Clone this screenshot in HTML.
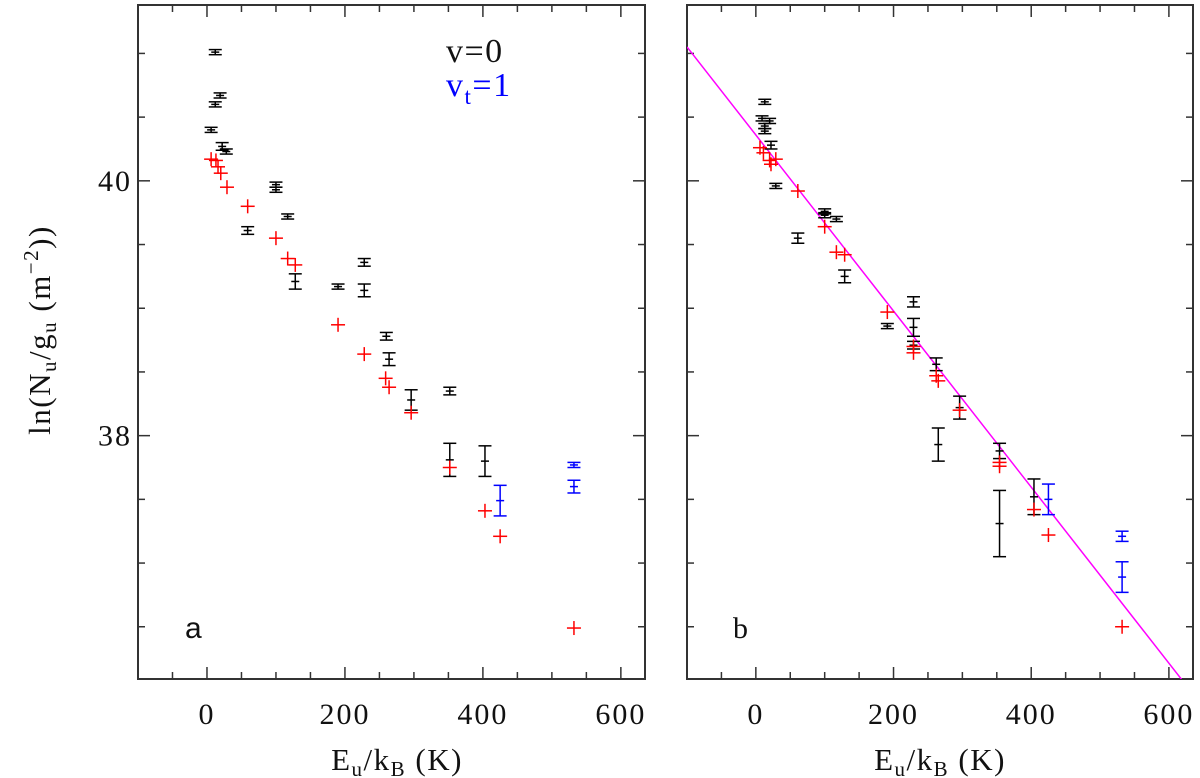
<!DOCTYPE html>
<html><head><meta charset="utf-8"><style>
html,body{margin:0;padding:0;background:#fff;}
body{position:relative;}
svg{display:block;font-family:"Liberation Serif",serif;}
</style></head><body>
<svg id="chart" width="1200" height="778" viewBox="0 0 1200 778"></svg>
<script>
// Panel a data
const aBlackE=[12,19,12,6,22,28,100,100,117,59,128,228,190,228,260,264,296,352,352,403];
const aBlackY=[41.01,40.67,40.60,40.40,40.27,40.23,39.97,39.93,39.72,39.61,39.21,39.36,39.17,39.14,38.78,38.60,38.28,38.35,37.81,37.80];
const aBlackErr=[0.02,0.02,0.02,0.02,0.03,0.02,0.02,0.02,0.02,0.03,0.06,0.03,0.02,0.05,0.03,0.05,0.08,0.03,0.13,0.12];
const aRedE=[6,13,16,20,29,59,100,117,128,190,228,259,264,296,352,403,425,532];
const aRedY=[40.17,40.16,40.11,40.06,39.95,39.80,39.55,39.39,39.34,38.87,38.64,38.45,38.38,38.18,37.75,37.41,37.21,36.49];
const aBlueE=[532,532,425];
const aBlueY=[37.77,37.60,37.49];
const aBlueErr=[0.02,0.05,0.12];
// Panel b data
const bBlackE=[13,9,20,13,13,22,29,100,100,117,61,129,229,191,229,229,262,296,265,354,354,404];
const bBlackY=[40.62,40.49,40.47,40.43,40.39,40.28,39.96,39.76,39.73,39.70,39.55,39.25,39.05,38.86,38.85,38.71,38.56,38.22,37.93,37.88,37.31,37.52];
const bBlackErr=[0.02,0.02,0.02,0.02,0.02,0.03,0.02,0.02,0.02,0.02,0.04,0.05,0.04,0.02,0.07,0.03,0.05,0.09,0.13,0.06,0.26,0.14];
const bRedE=[6,11,20,29,22,61,100,117,129,191,229,229,262,265,296,354,354,404,425,532];
const bRedY=[40.26,40.22,40.16,40.17,40.13,39.92,39.64,39.44,39.42,38.97,38.70,38.65,38.47,38.43,38.20,37.79,37.76,37.42,37.22,36.50];
const bBlueE=[425,532,532];
const bBlueY=[37.50,37.21,36.89];
const bBlueErr=[0.12,0.04,0.12];
const fitIntercept=40.36, fitSlope=-0.00691;
const xTicks=[0,200,400,600];
const yTicks=[38,40];

const NS="http://www.w3.org/2000/svg";
const svg=document.getElementById('chart');
function mk(tag,attrs,parent){const e=document.createElementNS(NS,tag);for(const k in attrs)e.setAttribute(k,attrs[k]);(parent||svg).appendChild(e);return e;}
const Y0=5,Y1=679,YMIN=36.09,YMAX=41.38;
function sy(v){return Y1-(v-YMIN)/(YMAX-YMIN)*(Y1-Y0);}
function makePanel(left,right,name){
  const xmin=-100,xmax=635;
  const sx=v=>left+(v-xmin)/(xmax-xmin)*(right-left);
  const g=mk('g',{});
  
  
  const fr=mk('rect',{x:left,y:Y0,width:right-left,height:Y1-Y0,fill:'none',stroke:'#333','stroke-width':2},g);
  
  
  for(let v=-50;v<=600;v+=50){const maj=v%200===0;const L=maj?12:7;
    mk('line',{x1:sx(v),x2:sx(v),y1:Y1,y2:Y1-L,stroke:'#333','stroke-width':1.5},g);
    mk('line',{x1:sx(v),x2:sx(v),y1:Y0,y2:Y0+L,stroke:'#333','stroke-width':1.5},g);}
  for(let v=36.5;v<=41.01;v+=0.5){const maj=Math.abs(v%2)<1e-6;const L=maj?12:7;
    mk('line',{x1:left,x2:left+L,y1:sy(v),y2:sy(v),stroke:'#333','stroke-width':1.5},g);
    mk('line',{x1:right,x2:right-L,y1:sy(v),y2:sy(v),stroke:'#333','stroke-width':1.5},g);}
  xTicks.forEach(v=>{const t=mk('text',{x:sx(v),y:724,'font-size':30,'text-anchor':'middle',fill:'#111','letter-spacing':2},g);t.textContent=v;
    
    });
  return {g,sx};
}
function errbar(g,x,y,e,color){
  const yt=sy(y+e),yb=sy(y-e),w=6.5;
  mk('line',{x1:x,x2:x,y1:yt,y2:yb,stroke:color,'stroke-width':1.5},g);
  mk('line',{x1:x-w,x2:x+w,y1:yt,y2:yt,stroke:color,'stroke-width':1.5},g);
  mk('line',{x1:x-w,x2:x+w,y1:yb,y2:yb,stroke:color,'stroke-width':1.5},g);
  mk('line',{x1:x-4,x2:x+4,y1:sy(y),y2:sy(y),stroke:color,'stroke-width':1.5},g);
}
function plus(g,x,y,color){
  mk('line',{x1:x-7,x2:x+7,y1:y,y2:y,stroke:color,'stroke-width':1.5},g);
  mk('line',{x1:x,x2:x,y1:y-7,y2:y+7,stroke:color,'stroke-width':1.5},g);
}
function drawSeries(p,bE,bY,bErr,rE,rY,uE,uY,uErr){
  const gb=mk('g',{},p.g);
  
  
  bE.forEach((e,i)=>errbar(gb,p.sx(e),bY[i],bErr[i],'#000'));
  const gr=mk('g',{},p.g);
  
  
  rE.forEach((e,i)=>plus(gr,p.sx(e),sy(rY[i]),'#f00'));
  const gu=mk('g',{},p.g);
  
  
  uE.forEach((e,i)=>errbar(gu,p.sx(e),uY[i],uErr[i],'#00f'));
}
const pa=makePanel(138,645,'panel-a');
drawSeries(pa,aBlackE,aBlackY,aBlackErr,aRedE,aRedY,aBlueE,aBlueY,aBlueErr);
const pb=makePanel(687,1193,'panel-b');
const cp=mk('clipPath',{id:'clipb'});mk('rect',{x:687,y:5,width:506,height:674},cp);
const fit=mk('line',{x1:pb.sx(-100),y1:sy(fitIntercept+fitSlope*-100),x2:pb.sx(635),y2:sy(fitIntercept+fitSlope*635),stroke:'#f0f','stroke-width':1.5,'clip-path':'url(#clipb)'},pb.g);


drawSeries(pb,bBlackE,bBlackY,bBlackErr,bRedE,bRedY,bBlueE,bBlueY,bBlueErr);
yTicks.forEach(v=>{const t=mk('text',{x:132,y:sy(v)+10,'font-size':30,'text-anchor':'end',fill:'#111','letter-spacing':2});t.textContent=v;
  
  });
</script>
<svg width="1200" height="778" style="position:absolute;left:0;top:0">
<text x="397" y="770" font-size="31" letter-spacing="1.5" text-anchor="middle" font-family="Liberation Serif,serif" fill="#111">E<tspan font-size="21" dy="6">u</tspan><tspan dy="-6">/k</tspan><tspan font-size="21" dy="6">B</tspan><tspan dy="-6"> (K)</tspan></text>
<text x="940" y="770" font-size="31" letter-spacing="1.5" text-anchor="middle" font-family="Liberation Serif,serif" fill="#111">E<tspan font-size="21" dy="6">u</tspan><tspan dy="-6">/k</tspan><tspan font-size="21" dy="6">B</tspan><tspan dy="-6"> (K)</tspan></text>
<text transform="translate(50,330) rotate(-90)" font-size="31" letter-spacing="1.5" text-anchor="middle" font-family="Liberation Serif,serif" fill="#111">ln(N<tspan font-size="21" dy="6">u</tspan><tspan dy="-6">/g</tspan><tspan font-size="21" dy="6">u</tspan><tspan dy="-6"> (m</tspan><tspan font-size="21" dy="-12">−2</tspan><tspan dy="12">))</tspan></text>
<text x="446" y="62" font-size="34" letter-spacing="1.5" font-family="Liberation Serif,serif" fill="#111">v=0</text>
<text x="446" y="96" font-size="34" letter-spacing="1.5" font-family="Liberation Serif,serif" fill="#00f">v<tspan font-size="23" dy="8">t</tspan><tspan dy="-8">=1</tspan></text>
<text x="185" y="638" font-size="30" font-family="Liberation Sans,sans-serif" fill="#111">a</text>
<text x="733" y="638" font-size="30" font-family="Liberation Serif,serif" fill="#111">b</text>
</svg>
</body></html>
